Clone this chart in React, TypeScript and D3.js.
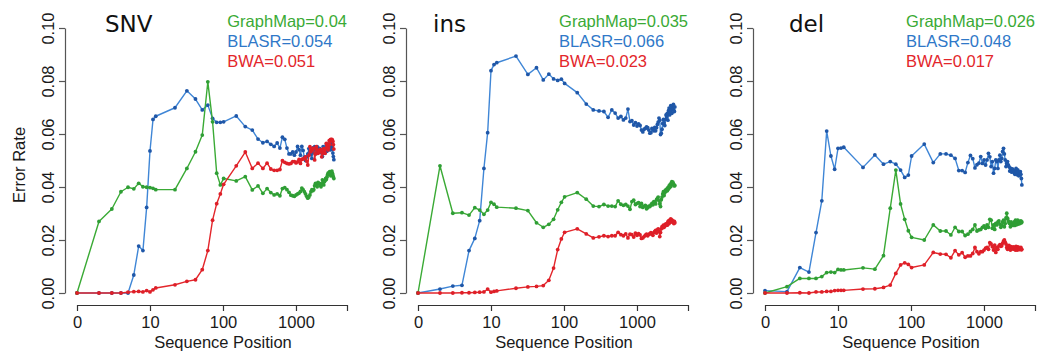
import React, { useEffect, useRef } from 'react'
import * as d3 from 'd3'

// sequence positions (1-based, the first one is labelled "0" on the axis)
const positions = [
  1, 2, 3, 4, 5, 6, 7, 8, 9, 10, 11, 12,
  22, 32, 42, 52, 62, 72, 82, 92, 102,
  152, 202, 252, 302, 352, 402, 452, 502, 552, 602, 652, 702, 752, 802, 852, 902,
  952, 1002, 1052, 1102, 1152, 1202, 1252, 1302, 1352, 1402, 1452, 1502, 1552, 1602, 1652, 1702,
  1752, 1802, 1852, 1902, 1952, 2002, 2052, 2102, 2152, 2202, 2252, 2302, 2352, 2402, 2452, 2502,
  2552, 2602, 2652, 2702, 2752, 2802, 2852, 2902, 2952, 3002, 3052, 3102, 3152, 3202, 3252, 3302,
]

const methods = ['GraphMap', 'BLASR', 'BWA']
const panelNames = ['SNV', 'ins', 'del']

const snvSummary = ['0.04', '0.054', '0.051']
const insSummary = ['0.035', '0.066', '0.023']
const delSummary = ['0.026', '0.048', '0.017']

const snvGraphMap = [
  0, 0.027, 0.0317, 0.0382, 0.0399, 0.0393, 0.0414, 0.0401, 0.0399, 0.0398, 0.0395, 0.039,
  0.039, 0.047, 0.0533, 0.0596, 0.0797, 0.0646, 0.0452, 0.0408, 0.0432,
  0.0423, 0.0439, 0.0389, 0.0404, 0.0376, 0.0394, 0.0379, 0.037, 0.0374, 0.0367, 0.0394, 0.0398, 0.039, 0.038, 0.0369, 0.0367,
  0.0365, 0.037, 0.0374, 0.0377, 0.0383, 0.0396, 0.039, 0.0382, 0.0374, 0.0365, 0.0358, 0.0362, 0.037, 0.0382, 0.039, 0.0386,
  0.039, 0.0405, 0.0414, 0.0408, 0.0401, 0.0417, 0.0412, 0.0414, 0.0406, 0.0401, 0.041, 0.0427, 0.0418, 0.0408, 0.042, 0.0425,
  0.0432, 0.0428, 0.0437, 0.0445, 0.0452, 0.0447, 0.0455, 0.0458, 0.045, 0.0442, 0.0456, 0.046, 0.0452, 0.0445, 0.0438, 0.0432,
]
const snvBlasr = [
  0, 0, 0, 0, 0, 0.0068, 0.0177, 0.016, 0.0323, 0.0536, 0.0655, 0.0667,
  0.0699, 0.0763, 0.0732, 0.0691, 0.0709, 0.0659, 0.0644, 0.0644, 0.0646,
  0.0668, 0.0628, 0.0615, 0.0581, 0.0567, 0.0572, 0.0561, 0.0553, 0.0566, 0.0547, 0.0588, 0.058, 0.0547, 0.0525, 0.0525, 0.0532,
  0.052, 0.0532, 0.0553, 0.0541, 0.052, 0.0553, 0.0538, 0.0513, 0.05, 0.0513, 0.0525, 0.0545, 0.0535, 0.0522, 0.0508, 0.0548,
  0.0529, 0.0552, 0.054, 0.0526, 0.0552, 0.054, 0.0534, 0.0546, 0.0538, 0.054, 0.0528, 0.0515, 0.0552, 0.0545, 0.054, 0.0528,
  0.0548, 0.0558, 0.0535, 0.0552, 0.0562, 0.0545, 0.0562, 0.0555, 0.054, 0.0565, 0.0552, 0.0542, 0.0556, 0.0528, 0.0515, 0.0503,
]
const snvBwa = [
  0, 0, 0, 0, 0.0003, 0.0005, 0.0006, 0.0004, 0.0009, 0.0004, 0.0012, 0.0019,
  0.0031, 0.0044, 0.005, 0.0088, 0.016, 0.0275, 0.0337, 0.0374, 0.041,
  0.048, 0.0532, 0.047, 0.049, 0.047, 0.049, 0.0468, 0.0463, 0.0463, 0.0466, 0.0499, 0.0493, 0.0489, 0.0487, 0.0489, 0.0496,
  0.0496, 0.0491, 0.0495, 0.0504, 0.0489, 0.0504, 0.0506, 0.0508, 0.0514, 0.0498, 0.0483, 0.052, 0.0552, 0.0533, 0.054, 0.0546,
  0.0546, 0.0502, 0.0525, 0.0552, 0.054, 0.0527, 0.053, 0.0533, 0.0542, 0.0538, 0.0514, 0.053, 0.0527, 0.0545, 0.0532, 0.0527,
  0.0545, 0.0565, 0.056, 0.0552, 0.054, 0.0548, 0.0575, 0.056, 0.0578, 0.058, 0.0575, 0.058, 0.0577, 0.0572, 0.056, 0.0543,
]

const insGraphMap = [
  0, 0.048, 0.0301, 0.0303, 0.0294, 0.0322, 0.0313, 0.0297, 0.0313, 0.0342, 0.0335, 0.0324,
  0.032, 0.0311, 0.0265, 0.0248, 0.0259, 0.0278, 0.0314, 0.0342, 0.0363,
  0.0379, 0.0354, 0.0328, 0.0326, 0.0334, 0.0328, 0.0328, 0.0326, 0.0348, 0.0335, 0.0331, 0.0334, 0.0328, 0.0316, 0.0345, 0.035,
  0.0334, 0.0338, 0.0341, 0.0326, 0.0338, 0.0323, 0.0328, 0.0331, 0.0318, 0.0322, 0.0328, 0.0326, 0.0332, 0.0338, 0.0333, 0.0345,
  0.0342, 0.0336, 0.0352, 0.0357, 0.0362, 0.0348, 0.0336, 0.0326, 0.0352, 0.0362, 0.0374, 0.0382, 0.0368, 0.0378, 0.0388, 0.0384,
  0.0392, 0.0386, 0.0398, 0.0392, 0.0404, 0.0398, 0.041, 0.0402, 0.0415, 0.042, 0.0412, 0.0418, 0.0412, 0.0408, 0.0404, 0.0406,
]
const insBlasr = [
  0, 0.0015, 0.0026, 0.0029, 0.016, 0.0206, 0.0273, 0.047, 0.0605, 0.0839, 0.0862, 0.0869,
  0.0894, 0.0825, 0.085, 0.0804, 0.0826, 0.0808, 0.0802, 0.0807, 0.0791,
  0.0756, 0.0713, 0.0691, 0.0687, 0.0685, 0.0663, 0.0691, 0.0679, 0.066, 0.0666, 0.0653, 0.066, 0.0694, 0.0647, 0.065, 0.0634,
  0.0643, 0.063, 0.0638, 0.0632, 0.0615, 0.0608, 0.0618, 0.0621, 0.0627, 0.0624, 0.0615, 0.0603, 0.0605, 0.0621, 0.0618, 0.0612,
  0.0625, 0.0612, 0.0624, 0.0636, 0.0645, 0.066, 0.0652, 0.0598, 0.0603, 0.0618, 0.064, 0.0655, 0.0642, 0.0632, 0.0655, 0.0672,
  0.0665, 0.0678, 0.0652, 0.0688, 0.0698, 0.0672, 0.0685, 0.0707, 0.0692, 0.0678, 0.0702, 0.0695, 0.0712, 0.0688, 0.0685, 0.0702,
]
const insBwa = [
  0, 0, 0, 0.0001, 0.0001, 0.0002, 0.0003, 0.0004, 0.0015, 0.0003, 0.0006, 0.0008,
  0.0018, 0.0023, 0.0025, 0.0028, 0.0048, 0.0094, 0.0164, 0.0204, 0.0229,
  0.0242, 0.0223, 0.0208, 0.0212, 0.0216, 0.0213, 0.0216, 0.0216, 0.0229, 0.022, 0.0216, 0.0223, 0.0208, 0.0222, 0.022, 0.0211,
  0.0226, 0.0218, 0.0224, 0.0219, 0.0206, 0.0208, 0.0213, 0.0218, 0.0222, 0.0216, 0.0221, 0.0224, 0.0228, 0.0222, 0.0218, 0.0228,
  0.0232, 0.0236, 0.0226, 0.0238, 0.0242, 0.0232, 0.0213, 0.0228, 0.0242, 0.025, 0.0246, 0.0256, 0.0248, 0.0252, 0.026, 0.0256,
  0.0262, 0.0256, 0.0268, 0.0272, 0.0262, 0.0275, 0.0268, 0.028, 0.0272, 0.0276, 0.0268, 0.0272, 0.0266, 0.0262, 0.027, 0.0265,
]

const delGraphMap = [
  0, 0.0024, 0.0055, 0.0055, 0.0055, 0.0062, 0.0077, 0.0079, 0.0077, 0.0089, 0.0087, 0.0087,
  0.0095, 0.009, 0.0141, 0.032, 0.0464, 0.0336, 0.0278, 0.0235, 0.021,
  0.02, 0.0257, 0.0234, 0.0234, 0.0219, 0.0248, 0.0232, 0.0232, 0.0217, 0.0222, 0.0232, 0.024, 0.0257, 0.0234, 0.0238, 0.024,
  0.0248, 0.0253, 0.0244, 0.0257, 0.0248, 0.0278, 0.0275, 0.0244, 0.0257, 0.024, 0.0263, 0.0257, 0.0268, 0.0272, 0.026, 0.0248,
  0.0255, 0.0268, 0.0275, 0.025, 0.0262, 0.0283, 0.0301, 0.0282, 0.0272, 0.0265, 0.0262, 0.025, 0.0268, 0.0258, 0.0262, 0.0255,
  0.026, 0.0268, 0.0255, 0.0275, 0.0262, 0.0258, 0.0268, 0.0275, 0.026, 0.0265, 0.027, 0.0262, 0.0268, 0.0272, 0.0265, 0.0268,
]
const delBlasr = [
  0.0009, 0.0005, 0.0096, 0.0079, 0.0228, 0.0348, 0.0611, 0.0517, 0.0467, 0.0546, 0.0547, 0.055,
  0.0474, 0.0521, 0.0486, 0.0496, 0.0486, 0.0464, 0.0436, 0.0445, 0.0517,
  0.0562, 0.0492, 0.0525, 0.0525, 0.052, 0.0508, 0.0462, 0.0462, 0.0455, 0.0492, 0.0519, 0.0507, 0.0472, 0.0484, 0.049, 0.0515,
  0.0489, 0.0502, 0.0483, 0.0502, 0.0527, 0.0514, 0.0477, 0.0496, 0.0452, 0.047, 0.0502, 0.0496, 0.047, 0.0502, 0.052, 0.0496,
  0.0508, 0.0534, 0.0546, 0.0525, 0.0502, 0.0477, 0.0489, 0.0496, 0.0483, 0.0477, 0.046, 0.0471, 0.0462, 0.0456, 0.0468, 0.046,
  0.0462, 0.0455, 0.0448, 0.0462, 0.047, 0.0452, 0.0446, 0.0465, 0.0458, 0.0442, 0.0452, 0.0445, 0.0458, 0.0448, 0.0432, 0.0408,
]
const delBwa = [
  0, 0, 0.0001, 0, 0.0004, 0.0004, 0.0006, 0.0006, 0.0009, 0.001, 0.001, 0.001,
  0.0015, 0.0016, 0.0021, 0.003, 0.0074, 0.0106, 0.0114, 0.0108, 0.0096,
  0.0106, 0.0153, 0.0147, 0.0146, 0.0133, 0.016, 0.0144, 0.0152, 0.0135, 0.014, 0.014, 0.0149, 0.0172, 0.0156, 0.0148, 0.0156,
  0.0156, 0.0162, 0.0169, 0.0172, 0.0165, 0.019, 0.0185, 0.0175, 0.0162, 0.0181, 0.0153, 0.0172, 0.0165, 0.0178, 0.0182, 0.0176,
  0.0178, 0.0188, 0.0196, 0.02, 0.0192, 0.0185, 0.0172, 0.0165, 0.0178, 0.018, 0.0168, 0.0162, 0.0175, 0.0166, 0.0172, 0.0168,
  0.0174, 0.0165, 0.017, 0.0162, 0.0176, 0.0168, 0.0162, 0.0174, 0.0165, 0.0172, 0.0164, 0.017, 0.0166, 0.0172, 0.0163, 0.0165,
]

const xTicks = [1, 10, 100, 1000, 5000]
const xTickLabels = ['0', '10', '100', '1000', '']
const yTicks = [0, 0.02, 0.04, 0.06, 0.08, 0.1]

const panels = [
  { name: panelNames[0], series: [snvGraphMap, snvBlasr, snvBwa], summary: snvSummary },
  { name: panelNames[1], series: [insGraphMap, insBlasr, insBwa], summary: insSummary },
  { name: panelNames[2], series: [delGraphMap, delBlasr, delBwa], summary: delSummary },
]

const lineColors = ['#3aaa35', '#3f86d6', '#e3262b']
const dotColors = ['#2f9e35', '#1f57a8', '#de1f28']
const legendColors = ['#3aaa35', '#2f78c8', '#e3262b']
const axisLeftX = [65, 406, 753]
const titleOffset = [40, 27, 36]
const font = "'Liberation Sans', Arial, sans-serif"

export default function App() {
  const svgRef = useRef<SVGSVGElement | null>(null)

  useEffect(() => {
    if (!svgRef.current) return
    const svg = d3.select(svgRef.current)
    svg.selectAll('*').remove()

    const y = d3.scaleLinear().domain([0, 0.1]).range([293, 28])

    panels.forEach((panel, i) => {
      const ax = axisLeftX[i]
      const x = d3.scaleLog().domain([1, 5000]).range([ax + 12, ax + 282])
      const g = svg.append('g')

      // y axis
      const ya = g.append('g')
        .attr('transform', `translate(${ax},0)`)
        .call(d3.axisLeft(y).tickValues(yTicks).tickSize(6).tickSizeOuter(0).tickFormat(d3.format('.2f')))
      ya.attr('font-size', 16.5).attr('font-family', font)
      ya.select('.domain').attr('stroke', '#555').attr('stroke-width', 1.2)
      ya.selectAll('.tick line').attr('stroke', '#555').attr('stroke-width', 1.2)
      ya.selectAll('.tick text')
        .attr('x', null)
        .attr('dy', null)
        .attr('text-anchor', 'middle')
        .attr('fill', '#1a1a1a')
        .attr('transform', 'translate(-11,0) rotate(-90)')

      // x axis
      const xa = g.append('g')
        .attr('transform', 'translate(0,305)')
        .call(d3.axisBottom(x).tickValues(xTicks).tickSize(6).tickSizeOuter(0).tickPadding(5)
          .tickFormat((_d, k) => xTickLabels[k]))
      xa.attr('font-size', 16.5).attr('font-family', font)
      xa.select('.domain').attr('stroke', '#333').attr('stroke-width', 1.2)
      xa.selectAll('.tick line').attr('stroke', '#333').attr('stroke-width', 1.2)
      xa.selectAll('.tick text').attr('fill', '#1a1a1a')

      g.append('text')
        .attr('x', ax + 158)
        .attr('y', 348)
        .attr('text-anchor', 'middle')
        .attr('font-size', 16.5)
        .attr('font-family', font)
        .attr('fill', '#1a1a1a')
        .text('Sequence Position')

      if (i === 0) {
        g.append('text')
          .attr('transform', 'translate(25,165) rotate(-90)')
          .attr('text-anchor', 'middle')
          .attr('font-size', 16.5)
          .attr('font-family', font)
          .attr('fill', '#1a1a1a')
          .text('Error Rate')
      }

      // panel title
      g.append('text')
        .attr('x', ax + titleOffset[i])
        .attr('y', 32)
        .attr('font-size', 23)
        .attr('font-family', "'DejaVu Sans', sans-serif")
        .attr('fill', '#111')
        .text(panel.name)

      // series: draw BLASR first, then GraphMap, then BWA
      const line = d3.line<number>()
        .x((_v, k) => x(positions[k]))
        .y(v => y(v))
      ;[1, 0, 2].forEach(s => {
        const vals = panel.series[s]
        g.append('path')
          .datum(vals)
          .attr('d', line)
          .attr('fill', 'none')
          .attr('stroke', lineColors[s])
          .attr('stroke-width', 1.4)
          .attr('stroke-linejoin', 'round')
        g.append('g')
          .selectAll('circle')
          .data(vals)
          .join('circle')
          .attr('cx', (_v, k) => x(positions[k]))
          .attr('cy', v => y(v))
          .attr('r', 1.9)
          .attr('fill', dotColors[s])
      })

      // legend, right edge at the end of the x axis, lines left aligned
      const lg = g.append('g').attr('transform', `translate(${ax + 282},0)`)
      const texts = lg.selectAll('text')
        .data(methods)
        .join('text')
        .attr('y', (_m, k) => 27 + k * 20)
        .attr('font-size', 16.5)
        .attr('font-family', font)
        .attr('fill', (_m, k) => legendColors[k])
        .text((m, k) => `${m}=${panel.summary[k]}`)
      const widths = (texts.nodes() as SVGTextElement[]).map(n => n.getComputedTextLength())
      const maxW = d3.max(widths) ?? 0
      texts.attr('x', -maxW)
    })
  }, [])

  return (
    <svg
      ref={svgRef}
      width={1039}
      height={356}
      style={{ position: 'absolute', left: 0, top: 0, background: '#fff' }}
    />
  )
}
